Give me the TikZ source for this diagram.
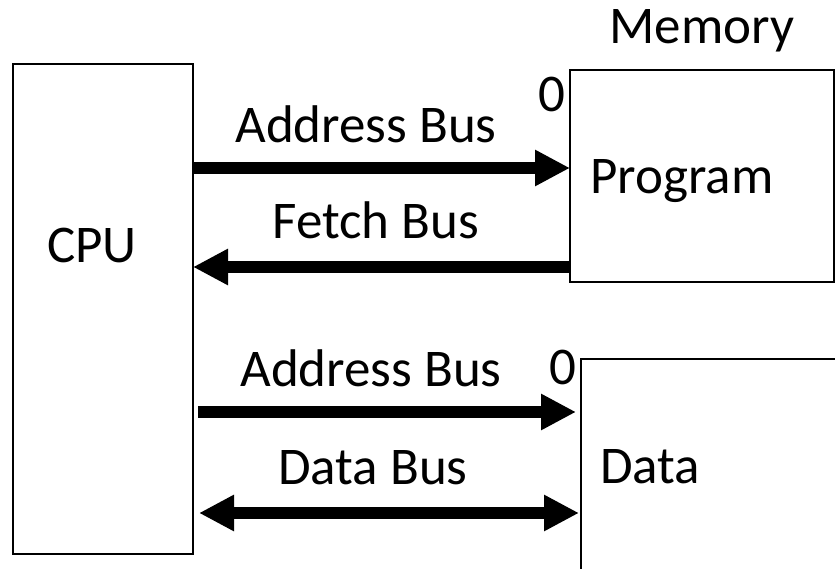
\documentclass[tikz,border=0pt]{standalone}
\usepackage{fontspec}
\setmainfont{Carlito}
\usetikzlibrary{arrows.meta}
\begin{document}
\begin{tikzpicture}[x=1pt,y=-1pt,
  box/.style={draw,line width=1.5pt,inner sep=0pt,outer sep=0pt},
  lbl/.style={anchor=base,inner sep=0pt,font=\fontsize{53}{60}\selectfont},
  bus/.style={line width=12pt,-{Triangle[length=35pt,width=34pt]}},
  dbus/.style={line width=12pt,{Triangle[length=35pt,width=34pt]}-{Triangle[length=35pt,width=34pt]}}]
\useasboundingbox (0,0) rectangle (835,569);
\clip (0,0) rectangle (835,569);
\node[box,minimum width=180pt,minimum height=490pt] (cpu) at (103,309) {};
\node[box,minimum width=264pt,minimum height=212pt] (prog) at (702,176) {};
\node[box,minimum width=280pt,minimum height=240pt] (data) at (721,479) {};
\coordinate (y1) at (0,168);
\coordinate (y2) at (0,267);
\coordinate (y3) at (0,412);
\coordinate (y4) at (0,513);
\draw[bus] (cpu.east |- y1) -- (prog.west |- y1);
\draw[bus] (prog.west |- y2) -- (cpu.east |- y2);
\draw[bus,shorten <=5pt,shorten >=5pt] (cpu.east |- y3) -- (data.west |- y3);
\draw[dbus,shorten <=6pt,shorten >=2pt] (cpu.east |- y4) -- (data.west |- y4);
\node[lbl] (tcpu) at (92,263) {CPU};
\node[lbl] (tmem) at (702,44) {Memory};
\node[lbl] (tprog) at (682,194) {Program};
\node[lbl] (tdata) at (650,483) {Data};
\node[lbl] (z1) at (552,112) {0};
\node[lbl] (z2) at (563,384) {0};
\node[lbl] (tab1) at (366,143) {Address Bus};
\node[lbl] (tfb) at (376,239) {Fetch Bus};
\node[lbl] (tab2) at (371,386) {Address Bus};
\node[lbl] (tdb) at (373,484) {Data Bus};
\end{tikzpicture}
\end{document}
